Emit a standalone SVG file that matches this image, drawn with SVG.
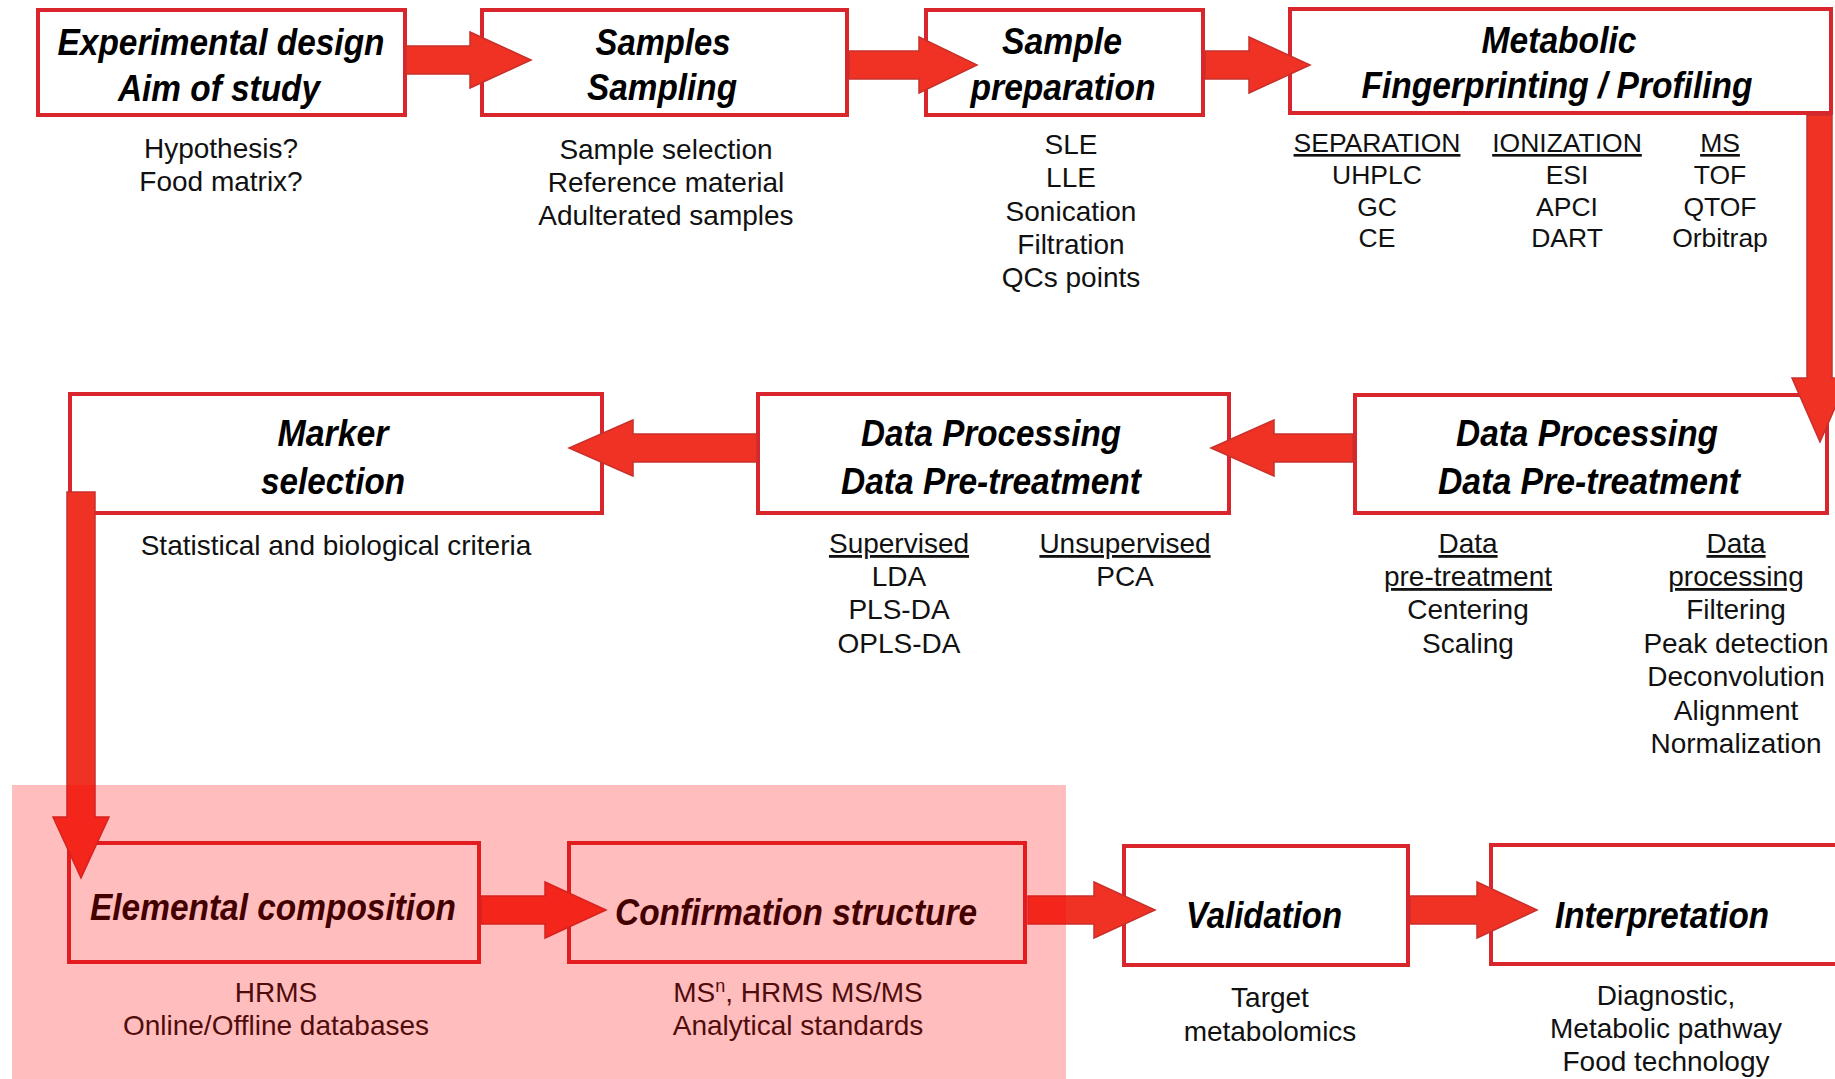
<svg xmlns="http://www.w3.org/2000/svg" width="1835" height="1079" viewBox="0 0 1835 1079">
<style>
.box{fill:#ffffff;stroke:#d9262c;stroke-width:4}
.title{font-family:"Liberation Sans Narrow","Liberation Sans",Arial,sans-serif;font-style:italic;font-weight:bold;font-size:37px;fill:#000;text-anchor:middle}
.sub{font-family:"Liberation Sans",Arial,sans-serif;font-size:28px;fill:#111;text-anchor:middle}
.met{font-size:26.5px}
.hdr{text-decoration:underline}
.arrow{fill:#f03224;stroke:#c8302c;stroke-width:1.5;stroke-linejoin:miter}
</style>
<rect x="0" y="0" width="1835" height="1079" fill="#ffffff"/>

<g id="node-experimental-design">
<rect class="box" x="38" y="10" width="367" height="105"/>
<text class="title" x="221" y="55" textLength="327" lengthAdjust="spacingAndGlyphs">Experimental design</text>
<text class="title" x="219" y="101" textLength="202" lengthAdjust="spacingAndGlyphs">Aim of study</text>
<text class="sub" x="221" y="158">Hypothesis?</text>
<text class="sub" x="221" y="191">Food matrix?</text>
</g>

<g id="node-samples">
<rect class="box" x="482" y="10" width="365" height="105"/>
<text class="title" x="663" y="55" textLength="135" lengthAdjust="spacingAndGlyphs">Samples</text>
<text class="title" x="662" y="100" textLength="150" lengthAdjust="spacingAndGlyphs">Sampling</text>
<text class="sub" x="666" y="159">Sample selection</text>
<text class="sub" x="666" y="192">Reference material</text>
<text class="sub" x="666" y="225">Adulterated samples</text>
</g>

<g id="node-sample-preparation">
<rect class="box" x="926" y="10" width="277" height="105"/>
<text class="title" x="1062" y="54" textLength="120" lengthAdjust="spacingAndGlyphs">Sample</text>
<text class="title" x="1063" y="100" textLength="185" lengthAdjust="spacingAndGlyphs">preparation</text>
<text class="sub" x="1071" y="154">SLE</text>
<text class="sub" x="1071" y="187">LLE</text>
<text class="sub" x="1071" y="221">Sonication</text>
<text class="sub" x="1071" y="254">Filtration</text>
<text class="sub" x="1071" y="287">QCs points</text>
</g>

<g id="node-metabolic-fingerprinting">
<rect class="box" x="1290" y="9" width="541" height="104"/>
<text class="title" x="1559" y="53" textLength="155" lengthAdjust="spacingAndGlyphs">Metabolic</text>
<text class="title" x="1557" y="98" textLength="391" lengthAdjust="spacingAndGlyphs">Fingerprinting / Profiling</text>
<text class="sub met hdr" x="1377" y="152">SEPARATION</text>
<text class="sub met" x="1377" y="184">UHPLC</text>
<text class="sub met" x="1377" y="216">GC</text>
<text class="sub met" x="1377" y="247">CE</text>
<text class="sub met hdr" x="1567" y="152">IONIZATION</text>
<text class="sub met" x="1567" y="184">ESI</text>
<text class="sub met" x="1567" y="216">APCI</text>
<text class="sub met" x="1567" y="247">DART</text>
<text class="sub met hdr" x="1720" y="152">MS</text>
<text class="sub met" x="1720" y="184">TOF</text>
<text class="sub met" x="1720" y="216">QTOF</text>
<text class="sub met" x="1720" y="247">Orbitrap</text>
</g>

<g id="node-data-processing-right">
<rect class="box" x="1355" y="395" width="472" height="118"/>
<text class="title" x="1587" y="446" textLength="262" lengthAdjust="spacingAndGlyphs">Data Processing</text>
<text class="title" x="1589" y="494" textLength="302" lengthAdjust="spacingAndGlyphs">Data Pre-treatment</text>
<text class="sub hdr" x="1468" y="553">Data</text>
<text class="sub hdr" x="1468" y="586">pre-treatment</text>
<text class="sub" x="1468" y="619">Centering</text>
<text class="sub" x="1468" y="653">Scaling</text>
<text class="sub hdr" x="1736" y="553">Data</text>
<text class="sub hdr" x="1736" y="586">processing</text>
<text class="sub" x="1736" y="619">Filtering</text>
<text class="sub" x="1736" y="653">Peak detection</text>
<text class="sub" x="1736" y="686">Deconvolution</text>
<text class="sub" x="1736" y="720">Alignment</text>
<text class="sub" x="1736" y="753">Normalization</text>
</g>

<g id="node-data-processing-middle">
<rect class="box" x="758" y="394" width="471" height="119"/>
<text class="title" x="991" y="446" textLength="260" lengthAdjust="spacingAndGlyphs">Data Processing</text>
<text class="title" x="991" y="494" textLength="300" lengthAdjust="spacingAndGlyphs">Data Pre-treatment</text>
<text class="sub hdr" x="899" y="553">Supervised</text>
<text class="sub" x="899" y="586">LDA</text>
<text class="sub" x="899" y="619">PLS-DA</text>
<text class="sub" x="899" y="653">OPLS-DA</text>
<text class="sub hdr" x="1125" y="553">Unsupervised</text>
<text class="sub" x="1125" y="586">PCA</text>
</g>

<g id="node-marker-selection">
<rect class="box" x="70" y="394" width="532" height="119"/>
<text class="title" x="333" y="446" textLength="111" lengthAdjust="spacingAndGlyphs">Marker</text>
<text class="title" x="333" y="494" textLength="144" lengthAdjust="spacingAndGlyphs">selection</text>
<text class="sub" x="336" y="555">Statistical and biological criteria</text>
</g>

<g id="node-elemental-composition">
<rect class="box" x="69" y="843" width="410" height="119"/>
<text class="title" x="273" y="920" textLength="366" lengthAdjust="spacingAndGlyphs">Elemental composition</text>
<text class="sub" x="276" y="1002">HRMS</text>
<text class="sub" x="276" y="1035">Online/Offline databases</text>
</g>

<g id="node-confirmation-structure">
<rect class="box" x="569" y="843" width="456" height="119"/>
<text class="title" x="796" y="925" textLength="362" lengthAdjust="spacingAndGlyphs">Confirmation structure</text>
<text class="sub" x="798" y="1002">MS<tspan font-size="18" baseline-shift="super">n</tspan>, HRMS MS/MS</text>
<text class="sub" x="798" y="1035">Analytical standards</text>
</g>

<g id="node-validation">
<rect class="box" x="1124" y="846" width="284" height="119"/>
<text class="title" x="1264" y="928" textLength="156" lengthAdjust="spacingAndGlyphs">Validation</text>
<text class="sub" x="1270" y="1007">Target</text>
<text class="sub" x="1270" y="1041">metabolomics</text>
</g>

<g id="node-interpretation">
<rect class="box" x="1491" y="845" width="360" height="119"/>
<text class="title" x="1662" y="928" textLength="214" lengthAdjust="spacingAndGlyphs">Interpretation</text>
<text class="sub" x="1666" y="1005">Diagnostic,</text>
<text class="sub" x="1666" y="1038">Metabolic pathway</text>
<text class="sub" x="1666" y="1071">Food technology</text>
</g>

<g id="connectors">
<polygon class="arrow" points="406,46 470,46 470,32 531,60 470,88 470,74 406,74"/>
<polygon class="arrow" points="849,51 919,51 919,37 977,65 919,93 919,79 849,79"/>
<polygon class="arrow" points="1205,51 1249,51 1249,37 1310,65 1249,93 1249,79 1205,79"/>
<polygon class="arrow" points="1807,115 1832,115 1832,378 1848,378 1820,442 1792,378 1807,378"/>
<polygon class="arrow" points="1353,434 1274,434 1274,420 1211,448 1274,476 1274,462 1353,462"/>
<polygon class="arrow" points="757,434 633,434 633,420 569,448 633,476 633,462 757,462"/>
<polygon class="arrow" points="67,492 95,492 95,817 109,817 81,878 53,817 67,817"/>
<polygon class="arrow" points="481,896 545,896 545,882 606,910 545,938 545,924 481,924"/>
<polygon class="arrow" points="1028,896 1094,896 1094,882 1155,910 1094,938 1094,924 1028,924"/>
<polygon class="arrow" points="1410,896 1477,896 1477,882 1537,910 1477,938 1477,924 1410,924"/>
</g>

<rect id="highlight" x="12" y="785" width="1054" height="294" fill="#ff0000" fill-opacity="0.26"/>
</svg>
